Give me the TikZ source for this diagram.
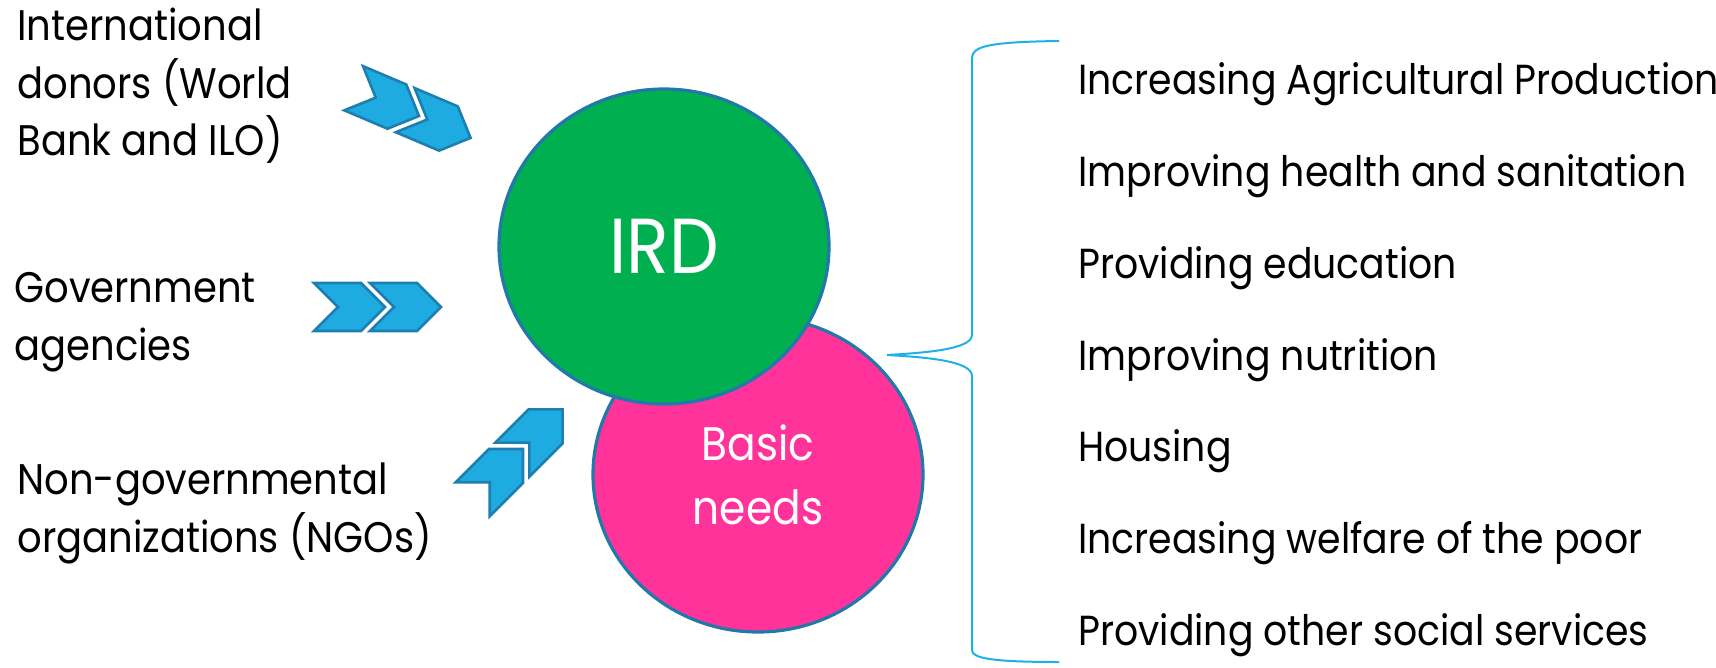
\documentclass[tikz,border=0pt]{standalone}
\usepackage{fontspec}
\setmainfont{Poppins}
\newfontfamily\sidefont[FakeStretch=0.9]{Poppins}
\newfontfamily\listfont[FakeStretch=0.9]{Poppins}
\usetikzlibrary{shapes.geometric}
\definecolor{irdgreen}{HTML}{00B050}
\definecolor{needpink}{HTML}{FF3399}
\definecolor{rimblue}{HTML}{2179AA}
\definecolor{chevblue}{HTML}{1EABE2}
\definecolor{chevrim}{HTML}{1C7FB0}
\definecolor{bracecol}{HTML}{20B0E8}
% two chevrons: tip x, tip y, angle
\newcommand{\chevpair}[3]{%
  \begin{scope}[shift={(#1,#2)}, rotate=#3]
    \foreach \s in {0,56}
      \draw[chev] (\s,0) -- ++(-24,-24) -- ++(-47,0) -- ++(24,24) -- ++(-24,24) -- ++(47,0) -- cycle;
  \end{scope}}

\begin{document}
\begin{tikzpicture}[x=0.5pt,y=-0.5pt,
  bubble/.style={ellipse, draw=rimblue, line width=1.6pt, minimum width=165pt, minimum height=157.5pt, inner sep=0pt, text=white, align=center},
  source/.style={anchor=base west, inner sep=0pt, align=left, font=\sidefont\fontsize{21.4}{28.75}\selectfont},
  item/.style={anchor=base west, inner sep=0pt, font=\listfont\fontsize{21}{25}\selectfont},
  chev/.style={fill=chevblue, draw=chevrim, line width=1.3pt, line join=miter}]
\useasboundingbox (0,0) rectangle (1716,668);

% the two circles, green one on top
\node[bubble, fill=needpink, font=\listfont\fontsize{23.5}{32}\selectfont] (needs) at (758,474.5) {Basic\\needs};
\node[bubble, fill=irdgreen, font=\listfont\fontsize{39}{40}\selectfont] (ird) at (664,246.5) {IRD};

% actors on the left (anchored on the last line)
\node[source] (donors) at (17,155.5) {International\\donors (World\\Bank and ILO)};
\node[source] (gov) at (14,360) {Government\\agencies};
\node[source] (ngo) at (17,552) {Non-governmental\\organizations (NGOs)};

\chevpair{419}{116}{-23}
\chevpair{385}{307}{0}
\chevpair{523}{449}{45}

% brace
\draw[bracecol, line width=1pt] (1059,41) .. controls (990,42) and (972,46) .. (972,58) -- (972,335)
  .. controls (972,350) and (920,353) .. (887,355) .. controls (920,357) and (972,360) .. (972,376)
  -- (972,650) .. controls (972,658) and (990,662) .. (1059,662);

% list of needs
\foreach \txt [count=\i from 0] in {Increasing Agricultural Production, Improving health and sanitation,
  Providing education, Improving nutrition, Housing, Increasing welfare of the poor, Providing other social services}
  \node[item] (need\i) at (1078, 95+91.67*\i) {\txt};
\end{tikzpicture}
\end{document}
